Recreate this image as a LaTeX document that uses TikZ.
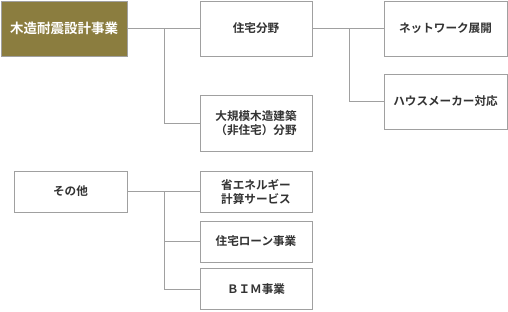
\documentclass[tikz,border=0pt]{standalone}
\usepackage{fontspec}
\setmainfont{Noto Sans CJK JP}[BoldFont={* Bold}]
\definecolor{olive}{HTML}{8B7D3F}
\definecolor{edge}{HTML}{A0A0A0}
\definecolor{txt}{HTML}{333333}
\tikzset{
  box/.style={draw=edge, line width=0.8pt, fill=white, text=txt, align=center, font=\fontsize{11.6}{14}\selectfont\bfseries, inner sep=0pt},
  link/.style={draw=edge, line width=0.8pt}
}
\begin{document}
\begin{tikzpicture}[x=1pt,y=-1pt]
\useasboundingbox (0,0) rectangle (508,311);
\node[box, fill=olive, draw=edge, text=white, font=\fontsize{13.5}{15}\selectfont\bfseries, minimum width=126pt, minimum height=55pt] (main) at (64,28.5) {木造耐震設計事業};
\node[box, minimum width=112pt, minimum height=55pt] (jutaku) at (256,28.5) {住宅分野};
\node[box, minimum width=112pt, minimum height=56pt] (daikibo) at (256,123) {大規模木造建築\\（非住宅）分野};
\node[box, minimum width=123pt, minimum height=55pt] (net) at (445.5,28.5) {ネットワーク展開};
\node[box, minimum width=123pt, minimum height=55pt] (house) at (445.5,101.5) {ハウスメーカー対応};
\node[box, minimum width=113pt, minimum height=41pt] (sonota) at (70.5,191.5) {その他};
\node[box, minimum width=112pt, minimum height=41pt] (shoene) at (256,191.5) {省エネルギー\\計算サービス};
\node[box, minimum width=112pt, minimum height=41pt] (loan) at (256,241.5) {住宅ローン事業};
\node[box, minimum width=112pt, minimum height=41pt] (bim) at (256,289) {ＢＩＭ事業};
\coordinate (b1) at (164,28.5);
\coordinate (b2) at (349,28.5);
\coordinate (b3) at (164,191.5);
\draw[link] (main.east) -- (jutaku.west);
\draw[link] (b1) |- (daikibo.west);
\draw[link] (jutaku.east) -- (net.west);
\draw[link] (b2) |- (house.west);
\draw[link] (sonota.east) -- (shoene.west);
\draw[link] (b3) |- (loan.west);
\draw[link] (b3) |- (bim.west);
\end{tikzpicture}
\end{document}
